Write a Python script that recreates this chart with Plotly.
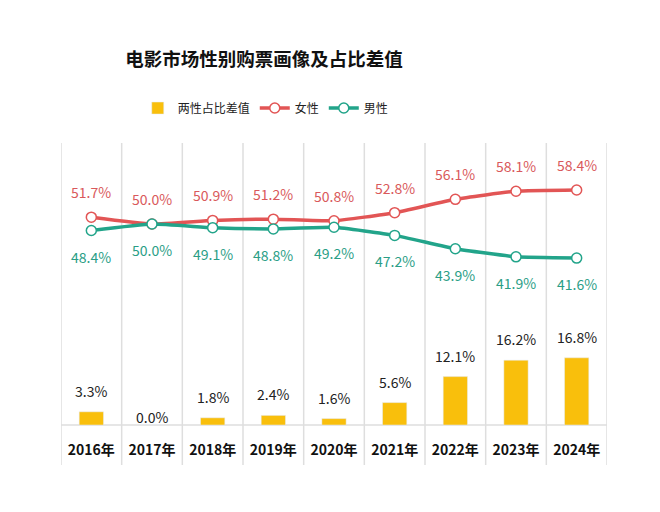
import plotly.graph_objects as go

years = ["2016年", "2017年", "2018年", "2019年", "2020年", "2021年", "2022年", "2023年", "2024年"]
diff = [3.3, 0.0, 1.8, 2.4, 1.6, 5.6, 12.1, 16.2, 16.8]
female = [51.7, 50.0, 50.9, 51.2, 50.8, 52.8, 56.1, 58.1, 58.4]
male = [48.4, 50.0, 49.1, 48.8, 49.2, 47.2, 43.9, 41.9, 41.6]

YELLOW = "#F9BF0C"
RED = "#E25555"
TEAL = "#22A48A"
RED_TXT = "#D9595B"
TEAL_TXT = "#2A9E86"
FONT = "Noto Sans CJK SC"

fig = go.Figure()
fig.add_trace(go.Bar(x=years, y=diff, name="两性占比差值", marker_color=YELLOW,
                     width=0.4, yaxis="y"))
fig.add_trace(go.Scatter(x=years, y=female, name="女性", mode="lines+markers", yaxis="y2",
                         line=dict(color=RED, width=3.5, shape="spline", smoothing=0.4),
                         marker=dict(symbol="circle", size=10, color="white",
                                     line=dict(color=RED, width=1.5))))
fig.add_trace(go.Scatter(x=years, y=male, name="男性", mode="lines+markers", yaxis="y2",
                         line=dict(color=TEAL, width=3.5, shape="spline", smoothing=0.4),
                         marker=dict(symbol="circle", size=10, color="white",
                                     line=dict(color=TEAL, width=1.5))))

annotations = []
for x, v in zip(years, diff):
    annotations.append(dict(x=x, y=v, yref="y", text=f"{v:.1f}%", showarrow=False,
                            yshift=21 if v > 0 else 8,
                            font=dict(size=14, color="#222222", family=FONT)))
for x, v in zip(years, female):
    annotations.append(dict(x=x, y=v, yref="y2", text=f"{v:.1f}%", showarrow=False,
                            yshift=25, font=dict(size=14, color=RED_TXT, family=FONT)))
for x, v in zip(years, male):
    annotations.append(dict(x=x, y=v, yref="y2", text=f"{v:.1f}%", showarrow=False,
                            yshift=-26, font=dict(size=14, color=TEAL_TXT, family=FONT)))

shapes = []
for i in range(len(years) + 1):
    shapes.append(dict(type="line", xref="x", yref="paper", x0=i - 0.5, x1=i - 0.5,
                       y0=-0.142, y1=1.0, line=dict(color="#DEDEDE", width=1.5), layer="below"))
shapes.append(dict(type="line", xref="paper", yref="paper", x0=0, x1=1, y0=0, y1=0,
                   line=dict(color="#DEDEDE", width=1.5), layer="below"))

fig.update_layout(
    width=660, height=512,
    margin=dict(l=53, r=61, t=135, b=95),
    paper_bgcolor="white", plot_bgcolor="white",
    font=dict(family=FONT, color="#222222"),
    title=dict(text="<b>电影市场性别购票画像及占比差值</b>", x=(264 - 8) / 660, xanchor="center",
               xref="container", y=1 - 52 / 512, yanchor="middle", yref="container",
               font=dict(size=18.5, color="#111111", family=FONT)),
    legend=dict(orientation="h", x=0.375, xanchor="center", y=1.124, yanchor="middle",
                font=dict(size=12, color="#222222", family=FONT), itemwidth=30,
                traceorder="normal"),
    xaxis=dict(type="category", showgrid=False, zeroline=False, showline=False,
               ticks="outside", ticklen=12, tickcolor="rgba(0,0,0,0)",
               tickfont=dict(size=14, color="#111111", family=FONT),
               range=[-0.5, 8.5]),
    yaxis=dict(range=[0, 70.5], visible=False, showgrid=False),
    yaxis2=dict(range=[0.4, 70], overlaying="y", visible=False, showgrid=False),
    annotations=annotations,
    shapes=shapes,
    bargap=0.6,
)
fig.update_xaxes(tickprefix="<b>", ticksuffix="</b>")

fig.write_html("out.html")
